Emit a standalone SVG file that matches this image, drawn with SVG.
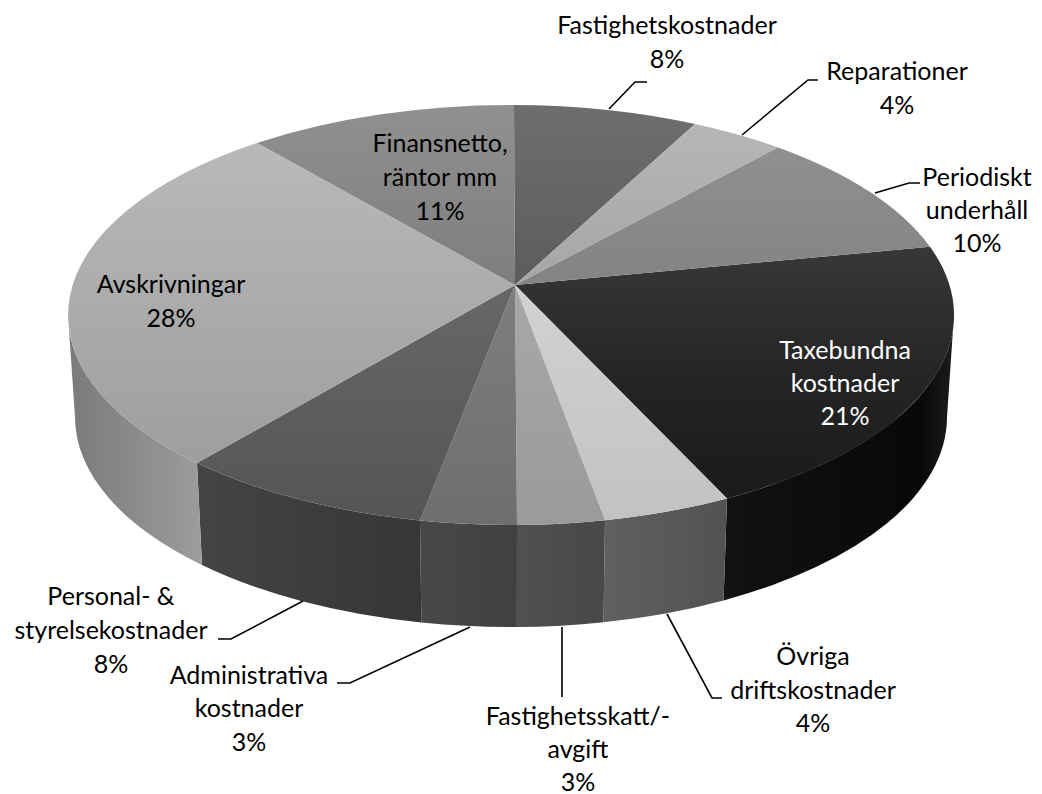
<svg xmlns="http://www.w3.org/2000/svg" width="1042" height="794" viewBox="0 0 1042 794">
<style>
.lbl{font-family:Lato,"Liberation Sans",sans-serif;font-size:25px;fill:#000;text-anchor:middle}
.wht{fill:#fff}
.lead{fill:none;stroke:#000;stroke-width:1.6}
</style>
<defs>
<linearGradient id="gFast" x1="0" y1="0" x2="0" y2="1"><stop offset="0" stop-color="#6e6e6e"/><stop offset="1" stop-color="#5c5c5c"/></linearGradient>
<linearGradient id="gRep" x1="0" y1="0" x2="0" y2="1"><stop offset="0" stop-color="#b6b6b6"/><stop offset="1" stop-color="#a6a6a6"/></linearGradient>
<linearGradient id="gPer" x1="0" y1="0" x2="0" y2="1"><stop offset="0" stop-color="#909090"/><stop offset="1" stop-color="#838383"/></linearGradient>
<linearGradient id="gTax" x1="0" y1="0" x2="0" y2="1"><stop offset="0" stop-color="#383838"/><stop offset="0.5" stop-color="#252525"/><stop offset="1" stop-color="#1a1a1a"/></linearGradient>
<linearGradient id="gOvr" x1="0" y1="0" x2="0" y2="1"><stop offset="0" stop-color="#d2d2d2"/><stop offset="1" stop-color="#c2c2c2"/></linearGradient>
<linearGradient id="gFsk" x1="0" y1="0" x2="0" y2="1"><stop offset="0" stop-color="#a8a8a8"/><stop offset="1" stop-color="#9a9a9a"/></linearGradient>
<linearGradient id="gAdm" x1="0" y1="0" x2="0" y2="1"><stop offset="0" stop-color="#7e7e7e"/><stop offset="1" stop-color="#6e6e6e"/></linearGradient>
<linearGradient id="gPers" x1="0" y1="0" x2="0" y2="1"><stop offset="0" stop-color="#676767"/><stop offset="1" stop-color="#555555"/></linearGradient>
<linearGradient id="gAvs" x1="0" y1="0" x2="0" y2="1"><stop offset="0" stop-color="#b9b9b9"/><stop offset="1" stop-color="#9e9e9e"/></linearGradient>
<linearGradient id="gFin" x1="0" y1="0" x2="0" y2="1"><stop offset="0" stop-color="#909090"/><stop offset="1" stop-color="#7e7e7e"/></linearGradient>
<linearGradient id="sTax" x1="0" y1="0" x2="1" y2="0"><stop offset="0" stop-color="#121212"/><stop offset="0.85" stop-color="#080808"/><stop offset="1" stop-color="#1c1c1c"/></linearGradient>
<linearGradient id="sOvr" x1="0" y1="0" x2="1" y2="0"><stop offset="0" stop-color="#606060"/><stop offset="1" stop-color="#525252"/></linearGradient>
<linearGradient id="sFsk" x1="0" y1="0" x2="1" y2="0"><stop offset="0" stop-color="#505050"/><stop offset="1" stop-color="#484848"/></linearGradient>
<linearGradient id="sAdm" x1="0" y1="0" x2="1" y2="0"><stop offset="0" stop-color="#484848"/><stop offset="1" stop-color="#404040"/></linearGradient>
<linearGradient id="sPers" x1="0" y1="0" x2="1" y2="0"><stop offset="0" stop-color="#444444"/><stop offset="1" stop-color="#363636"/></linearGradient>
<linearGradient id="sAvs" x1="0" y1="0" x2="1" y2="0"><stop offset="0" stop-color="#7a7a7a"/><stop offset="1" stop-color="#9c9c9c"/></linearGradient>
</defs>
<rect width="1042" height="794" fill="#fff"/>

<g id="slice-taxebundna">
<path d="M954,315 A443,210 0 0 1 727,498.4 L723.6,600.4 A436,210 0 0 0 947,417 Z" fill="url(#sTax)"/>
<path d="M515,285 L930,246.8 A443,210 0 0 1 727,498.4 Z" fill="url(#gTax)"/>
<text class="lbl wht" x="845" y="359">Taxebundna</text>
<text class="lbl wht" x="845" y="392">kostnader</text>
<text class="lbl wht" x="845" y="425">21%</text>
</g>
<g id="slice-ovriga">
<path d="M727,498.4 A443,210 0 0 1 605,520.2 L603.5,622.2 A436,210 0 0 0 723.6,600.4 Z" fill="url(#sOvr)"/>
<path d="M515,285 L727,498.4 A443,210 0 0 1 605,520.2 Z" fill="url(#gOvr)"/>
<text class="lbl" x="813" y="665">Övriga</text>
<text class="lbl" x="813" y="699">driftskostnader</text>
<text class="lbl" x="813" y="732">4%</text>
</g>
<g id="slice-fastighetsskatt">
<path d="M605,520.2 A443,210 0 0 1 517,525 L516.9,627 A436,210 0 0 0 603.5,622.2 Z" fill="url(#sFsk)"/>
<path d="M515,285 L605,520.2 A443,210 0 0 1 517,525 Z" fill="url(#gFsk)"/>
<text class="lbl" x="578" y="725">Fastighetsskatt/-</text>
<text class="lbl" x="578" y="758">avgift</text>
<text class="lbl" x="578" y="791">3%</text>
</g>
<g id="slice-administrativa">
<path d="M517,525 A443,210 0 0 1 420,520.5 L421.4,622.5 A436,210 0 0 0 516.9,627 Z" fill="url(#sAdm)"/>
<path d="M515,285 L517,525 A443,210 0 0 1 420,520.5 Z" fill="url(#gAdm)"/>
<text class="lbl" x="249" y="684">Administrativa</text>
<text class="lbl" x="249" y="717">kostnader</text>
<text class="lbl" x="249" y="751">3%</text>
</g>
<g id="slice-personal">
<path d="M420,520.5 A443,210 0 0 1 197,463.1 L202,565.1 A436,210 0 0 0 421.4,622.5 Z" fill="url(#sPers)"/>
<path d="M515,285 L420,520.5 A443,210 0 0 1 197,463.1 Z" fill="url(#gPers)"/>
<text class="lbl" x="111" y="605">Personal- &amp;</text>
<text class="lbl" x="111" y="639">styrelsekostnader</text>
<text class="lbl" x="111" y="673">8%</text>
</g>
<g id="slice-avskrivningar">
<path d="M197,463.1 A443,210 0 0 1 68,315 L75,417 A436,210 0 0 0 202,565.1 Z" fill="url(#sAvs)"/>
<path d="M515,285 L197,463.1 A443,210 0 0 1 257,143 Z" fill="url(#gAvs)"/>
<text class="lbl" x="171" y="293">Avskrivningar</text>
<text class="lbl" x="171" y="327">28%</text>
</g>
<g id="slice-finansnetto">
<path d="M515,285 L257,143 A443,210 0 0 1 514,105 Z" fill="url(#gFin)"/>
<text class="lbl" x="440" y="152">Finansnetto,</text>
<text class="lbl" x="440" y="186">räntor mm</text>
<text class="lbl" x="440" y="220">11%</text>
</g>
<g id="slice-fastighetskostnader">
<path d="M515,285 L514,105 A443,210 0 0 1 695,124 Z" fill="url(#gFast)"/>
<text class="lbl" x="667" y="34">Fastighetskostnader</text>
<text class="lbl" x="667" y="68">8%</text>
</g>
<g id="slice-reparationer">
<path d="M515,285 L695,124 A443,210 0 0 1 778,147.4 Z" fill="url(#gRep)"/>
<text class="lbl" x="897" y="80">Reparationer</text>
<text class="lbl" x="897" y="114">4%</text>
</g>
<g id="slice-periodiskt">
<path d="M515,285 L778,147.4 A443,210 0 0 1 930,246.8 Z" fill="url(#gPer)"/>
<text class="lbl" x="977" y="186">Periodiskt</text>
<text class="lbl" x="977" y="219">underhåll</text>
<text class="lbl" x="977" y="252">10%</text>
</g>

<g id="connectors">
<polyline class="lead" points="647,82 635,82 609,109"/>
<polyline class="lead" points="818,80 808,80 742,135"/>
<polyline class="lead" points="920,183 909,183 875,193"/>
<polyline class="lead" points="722,698 712,698 667,614"/>
<polyline class="lead" points="562,627 562,697"/>
<polyline class="lead" points="337,683 350,683 470,627"/>
<polyline class="lead" points="218,639 231,639 303,601"/>
</g>
</svg>
